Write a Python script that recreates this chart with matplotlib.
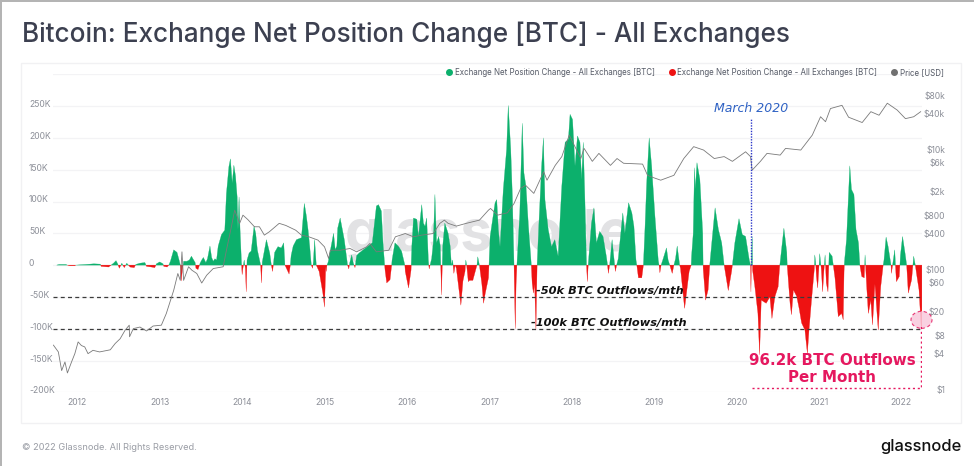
import numpy as np
import matplotlib
matplotlib.use("Agg")
import matplotlib.pyplot as plt
from matplotlib.lines import Line2D
from matplotlib.patches import Ellipse, Rectangle
from matplotlib.transforms import ScaledTranslation

# ---- data ----
net_years = [2011.75,2011.78,2011.86,2011.88,2011.91,2011.97,2011.98,2012.10,2012.20,2012.28,2012.29,2012.38,2012.40,2012.44,2012.47,2012.49,2012.51,2012.54,2012.57,2012.60,2012.64,2012.69,2012.71,2012.76,2012.82,2012.84,2012.90,2012.94,2012.96,2013.00,2013.04,2013.05,2013.09,2013.11,
2013.13,2013.17,2013.21,2013.235,2013.25,2013.26,2013.275,2013.29,2013.33,2013.36,2013.385,2013.43,2013.44,2013.465,2013.49,2013.51,2013.53,2013.56,2013.58,2013.61,2013.63,2013.65,2013.67,2013.69,2013.71,2013.75,2013.79,2013.81,2013.84,2013.858,2013.88,2013.90,2013.92,2013.94,2013.95,2013.963,2013.975,2013.99,2014.00,2014.01,2014.025,2014.04,2014.05,2014.06,2014.085,2014.11,2014.145,2014.165,2014.185,2014.225,2014.235,2014.245,2014.295,2014.335,2014.355,2014.37,2014.395,2014.435,2014.475,2014.505,2014.52,2014.57,2014.585,2014.595,2014.62,2014.66,2014.72,2014.755,2014.78,2014.80,2014.82,2014.84,2014.855,2014.865,2014.88,2014.90,2014.935,2014.98,2015.00,2015.015,2015.02,2015.03,2015.045,
2015.11,2015.13,2015.15,2015.16,2015.19,2015.24,2015.28,2015.295,2015.305,2015.33,2015.35,2015.37,2015.39,2015.42,2015.53,2015.58,2015.63,2015.655,2015.69,2015.71,2015.73,2015.735,2015.755,2015.795,2015.815,2015.82,2015.855,2015.895,2015.935,2015.975,2015.98,2016.02,2016.05,2016.06,2016.08,2016.12,2016.14,2016.18,2016.20,2016.22,2016.24,2016.26,2016.27,2016.30,2016.32,2016.34,2016.36,2016.385,2016.405,2016.42,2016.435,2016.46,2016.50,2016.525,2016.54,2016.555,2016.57,2016.585,2016.60,2016.655,2016.68,2016.705,2016.715,2016.725,2016.745,2016.76,2016.80,2016.85,2016.86,2016.88,2016.91,2016.93,2016.95,2016.99,
2017.01,2017.07,2017.09,2017.11,2017.13,2017.17,2017.21,2017.23,2017.26,2017.28,2017.30,2017.315,2017.325,2017.335,2017.37,2017.40,2017.42,2017.445,2017.475,2017.51,2017.52,2017.535,2017.55,2017.566,2017.58,2017.60,2017.635,2017.657,2017.675,2017.715,2017.755,2017.795,2017.835,2017.88,2017.92,2017.96,2017.98,2018.01,2018.04,2018.07,2018.10,2018.12,2018.14,2018.16,2018.18,2018.19,2018.20,2018.24,2018.27,2018.30,2018.34,2018.38,2018.42,2018.435,2018.445,2018.46,2018.49,2018.515,2018.53,2018.545,2018.565,2018.62,2018.645,2018.69,2018.73,2018.755,2018.78,2018.79,2018.81,2018.85,2018.87,2018.89,2018.91,2018.94,2018.97,2019.01,2019.05,2019.06,2019.07,2019.085,
2019.11,2019.15,2019.17,2019.19,2019.22,2019.24,2019.26,2019.28,2019.31,2019.32,2019.37,2019.425,2019.45,2019.455,2019.475,2019.49,2019.50,2019.52,2019.555,2019.59,2019.595,2019.625,2019.655,2019.675,2019.70,2019.74,2019.78,2019.82,2019.85,2019.86,2019.90,2019.94,2019.95,2019.98,2020.03,2020.07,2020.11,2020.155,2020.17,2020.175,2020.18,2020.19,2020.195,2020.22,2020.26,2020.28,2020.30,2020.36,2020.405,2020.43,2020.465,2020.505,2020.525,2020.53,2020.575,2020.61,2020.615,2020.65,2020.667,2020.69,2020.73,2020.76,2020.79,2020.83,2020.86,2020.88,2020.91,2020.945,2020.95,2020.96,2020.97,2020.985,2021.01,2021.03,2021.045,2021.06,2021.075,2021.09,2021.11,2021.125,2021.16,2021.195,2021.235,2021.275,2021.295,2021.305,2021.31,2021.335,2021.355,2021.375,2021.395,2021.425,2021.45,2021.48,2021.497,2021.52,2021.55,2021.56,2021.58,2021.60,2021.63,2021.65,2021.68,2021.72,2021.75,2021.78,2021.79,2021.815,2021.84,2021.875,2021.88,2021.92,2021.93,2021.94,2021.975,2021.99,2022.015,2022.045,2022.065,2022.085,2022.125,2022.15,2022.17,2022.19,2022.215,2022.24,2022.25]

net_k = [0,1,1,0,-1,-1,0,1,2,1.5,-2,-3,-1,3,7,2,-5,3,-4,3,-3,-4,1,3,4,-2,-3,-4,2,5,2,-2,-3,0,
6,24,20,8,0,-25,-8,6,6,8,14,4,-5,-7,3,8,12,4,10,30,12,6,10,8,30,48,55,113,155,167,129,157,140,107,56,107,56,11,-15,-5,8,-5,-42,8,19,22,61,50,24,0,-28,5,40,19,0,-10,20,29,27,35,0,-14,0,15,30,40,43,97,77,56,30,0,-5,5,40,0,-10,-44,-66,-2,-10,0,5,
50,24,30,58,74,40,0,-6,3,16,3,-4,15,19,30,35,93,95,85,35,0,-8,-28,-23,0,8,35,30,22,0,-10,-36,-8,30,74,72,45,95,66,61,74,8,-6,10,35,111,35,45,30,-47,30,66,50,30,0,8,-13,0,-5,-63,-25,-10,8,0,-26,-24,-24,0,13,0,-30,-60,-45,-20,
45,98,103,56,29,119,182,251,182,108,0,-100,-30,0,82,223,145,124,61,0,-28,-44,-30,-102,0,60,156,200,103,56,29,40,14,124,193,198,237,229,156,203,193,135,193,103,0,-26,0,66,90,35,53,45,14,0,-13,0,40,8,-10,0,10,82,50,98,82,61,8,0,-20,-20,0,60,129,200,156,77,8,0,-12,0,
10,27,8,0,-13,0,10,30,0,-5,-68,-10,0,15,50,153,120,161,135,50,-5,-55,-39,0,35,90,56,35,0,-8,-40,-10,0,35,73,48,45,8,0,-42,0,45,-8,-31,-76,-141,-55,-60,-50,-84,-50,-34,0,5,58,20,0,-60,-78,-39,-49,-68,-91,-102,-139,-102,-55,-5,16,5,-18,-36,18,-8,-42,-10,16,-28,-42,20,14,-20,-81,-76,-86,-10,5,40,98,156,119,111,56,35,0,-18,-20,16,-34,-76,-55,-94,-30,-102,-34,0,8,44,29,0,-13,24,-2,-26,-18,16,45,19,0,-44,-23,14,0,-18,-39,-96.2,-96.2]

price_years = [2011.71,2011.77,2011.81,2011.85,2011.88,2011.93,2011.97,2012.01,2012.05,2012.09,2012.13,2012.19,2012.27,2012.40,2012.46,2012.52,2012.58,2012.63,2012.634,2012.68,2012.76,2012.84,2012.92,2013.02,2013.08,2013.17,2013.22,2013.25,2013.27,2013.29,2013.35,2013.39,2013.45,2013.51,2013.57,2013.65,2013.77,2013.81,2013.87,2013.91,2013.97,2014.01,2014.07,2014.15,2014.21,2014.27,2014.33,2014.45,2014.53,2014.65,2014.72,2014.81,2014.92,2015.00,2015.05,2015.07,2015.19,2015.31,2015.39,2015.51,2015.55,2015.63,2015.78,2015.86,2015.92,2015.98,2016.08,2016.18,2016.32,2016.40,2016.455,2016.50,2016.60,2016.72,2016.88,2016.99,
2017.015,2017.10,2017.22,2017.30,2017.38,2017.44,2017.54,2017.66,2017.70,2017.80,2017.88,2017.97,2018.05,2018.11,2018.15,2018.25,2018.33,2018.47,2018.55,2018.63,2018.86,2018.92,2018.98,2019.08,2019.24,2019.36,2019.48,2019.60,2019.73,2019.85,2019.95,2020.11,2020.17,2020.19,2020.29,2020.37,2020.53,2020.595,2020.78,2020.92,2021.02,2021.08,2021.14,2021.28,2021.36,2021.525,2021.63,2021.73,2021.83,2021.95,2022.05,2022.15,2022.235]

price_usd = [6.1,4.7,2.3,3.2,2.1,3.2,4.4,6.9,6.0,5.7,4.4,5.0,4.7,5.1,6.5,7.8,10.8,13.1,8.4,11.5,12.2,10.5,12.7,13.1,20.5,50,95,73,218,73,123,108,95,66,89,115,123,233,570,1080,650,890,750,570,570,414,470,650,600,500,414,388,342,264,169,232,232,248,218,264,300,218,232,388,414,440,388,414,440,650,735,650,585,650,735,1080,
1150,890,975,1390,2480,2800,2050,4700,3400,6000,8400,19200,11500,7800,11500,7000,9500,6000,7800,6500,6300,4100,3800,3400,4100,7800,12300,10800,7800,8400,7000,10100,8400,5000,7000,9500,8900,11500,10800,19200,38700,32000,53000,60000,38000,31000,47000,41000,65000,50000,36000,38700,47000]

net_ticks = [-200,-150,-100,-50,0,50,100,150,200,250]
net_tick_labels = ["-200K","-150K","-100K","-50K","0","50K","100K","150K","200K","250K"]
grid_levels = [-200,-150,-100,-50,0,50,100,150,200,250,300]
price_ticks = [1,4,8,20,60,100,400,800,2000,6000,10000,40000,80000]
price_tick_labels = ["$1","$4","$8","$20","$60","$100","$400","$800","$2k","$6k","$10k","$40k","$80k"]
year_ticks = [2012,2013,2014,2015,2016,2017,2018,2019,2020,2021,2022]
threshold_levels = [-50,-100]
series_label = "Exchange Net Position Change - All Exchanges [BTC]"
price_label = "Price [USD]"

GREEN = "#0cb06c"
RED = "#ee1212"
FW, FH = 974, 466
plt.rcParams["font.family"] = ["Inter", "DejaVu Sans"]

fig = plt.figure(figsize=(FW/100, FH/100), dpi=100, facecolor="white")
def fx(px): return px/FW
def fy(py): return 1 - py/FH

# frame strips and chart card, behind the axes
fig.add_artist(Rectangle((0, fy(2)), 1, 2/FH, transform=fig.transFigure, fc="#b4b4b4", ec="none", zorder=-2))
fig.add_artist(Rectangle((0, 0), 1.5/FW, 1, transform=fig.transFigure, fc="#b4b4b4", ec="none", zorder=-2))
fig.add_artist(Rectangle((fx(21), fy(423)), 940/FW, 360/FH, transform=fig.transFigure,
                         fc="white", ec="#f1f1f3", lw=1, zorder=-1))

ax = fig.add_axes([fx(53), fy(392.3), (922-53)/FW, (392.3-74.3)/FH])
ax.set_xlim(2011.705, 2022.251)
ax.set_ylim(-200, 300)
ax.patch.set_alpha(0)
for s in ax.spines.values():
    s.set_visible(False)
for lv in grid_levels:
    ax.axhline(lv, color="#f3f3f5", lw=0.9, zorder=0)

ax.text(2017.0, 46, "glassnode", color="#e2e2e4", fontsize=41, ha="center", va="center",
        fontweight="bold", zorder=1)

yrs = np.array(net_years); vals = np.array(net_k, dtype=float)
ax.fill_between(yrs, 0, vals, where=vals >= 0, interpolate=True, color=GREEN, lw=0.2, zorder=2)
ax.fill_between(yrs, 0, vals, where=vals <= 0, interpolate=True, color=RED, lw=0.2, zorder=2)
for lv in threshold_levels:
    ax.axhline(lv, color="#3c3c3c", lw=0.9, dashes=(3.2, 2.6), zorder=3)

ax.set_xticks(year_ticks)
ax.set_xticklabels([str(y) for y in year_ticks])
ax.set_yticks(net_ticks)
ax.set_yticklabels(net_tick_labels, ha="left", va="bottom")
ax.tick_params(axis="y", length=0, pad=17.3, labelsize=6.2, labelcolor="#8c8f98")
ax.tick_params(axis="x", length=0, pad=3.9, labelsize=6.2, labelcolor="#8c8f98")

ax2 = ax.twinx()
ax2.set_yscale("log")
ax2.set_ylim(1, 197000)
ax2.plot(price_years, price_usd, color="#7a7a7a", lw=0.6, zorder=4)
for s in ax2.spines.values():
    s.set_visible(False)
ax2.set_yticks(price_ticks)
ax2.set_yticklabels(price_tick_labels, ha="right", va="bottom")
ax2.minorticks_off()
ax2.tick_params(axis="y", which="both", length=0, pad=16.6, labelsize=6.2, labelcolor="#8c8f98")

# move the value labels down onto their reference heights
down = ScaledTranslation(0, -3/72*100/100*72/100, fig.dpi_scale_trans)
for lab in ax.get_yticklabels() + ax2.get_yticklabels():
    lab.set_transform(lab.get_transform() + down)

# annotations, on top of everything
t = ax.transData
ax2.plot([2020.18, 2020.18], [0, 231], transform=t, color="#2b37c9", lw=1, ls=(0, (1, 1)), zorder=6)
ax2.text(2020.18, 246, "March 2020", transform=t, color="#2f62c4", fontsize=9.0, fontstyle="italic",
         ha="center", va="center", family=["DejaVu Sans"], zorder=7)
ax2.text(2018.465, -40.5, "-50k BTC Outflows/mth", transform=t, color="#111111", fontsize=8.2,
         fontweight="bold", fontstyle="italic", ha="center", va="center", family=["DejaVu Sans"], zorder=7)
ax2.text(2018.455, -90.5, "-100k BTC Outflows/mth", transform=t, color="#111111", fontsize=8.2,
         fontweight="bold", fontstyle="italic", ha="center", va="center", family=["DejaVu Sans"], zorder=7)
ax2.text(2021.16, -150.5, "96.2k BTC Outflows", transform=t, color="#e5185f", fontsize=10.9,
         fontweight="bold", ha="center", va="center", family=["DejaVu Sans"], zorder=7)
ax2.text(2021.16, -177, "Per Month", transform=t, color="#e5185f", fontsize=10.9,
         fontweight="bold", ha="center", va="center", family=["DejaVu Sans"], zorder=7)
ax2.plot([2020.19, 2022.24, 2022.24], [-192.5, -192.5, -96.2], transform=t, color="#e5185f",
         lw=1, ls=(0, (1.5, 2)), zorder=6)
ax2.add_patch(Ellipse((2022.245, -86), 0.255, 26.8, transform=t, fc="#f9c9dc", ec="#e5185f",
                      lw=0.8, ls=(0, (3, 2.5)), alpha=0.85, zorder=5, clip_on=False))

# legend
handles = [Line2D([], [], ls="", marker="o", ms=4, color=GREEN),
           Line2D([], [], ls="", marker="o", ms=4, color=RED),
           Line2D([], [], ls="", marker="o", ms=4, color="#707070")]
fig.legend(handles, [series_label, series_label, price_label], ncol=3, frameon=False,
           loc="center right", bbox_to_anchor=(fx(944), fy(72.7)), fontsize=5.7,
           labelcolor="#555a66", handletextpad=0.25, columnspacing=1.6, borderpad=0, borderaxespad=0, handlelength=1)

fig.text(fx(22), fy(34.5), "Bitcoin: Exchange Net Position Change [BTC] - All Exchanges", fontsize=18.8,
         color="#3c4050", ha="left", va="center", fontweight="medium")
fig.text(fx(22), fy(447), "\u00a9 2022 Glassnode. All Rights Reserved.", fontsize=6.65, color="#9a9da5",
         ha="left", va="center")
fig.text(fx(962), fy(447), "glassnode", fontsize=11.9, color="#111111", ha="right", va="center",
         fontweight="medium")

fig.savefig("out.png", dpi=100)
